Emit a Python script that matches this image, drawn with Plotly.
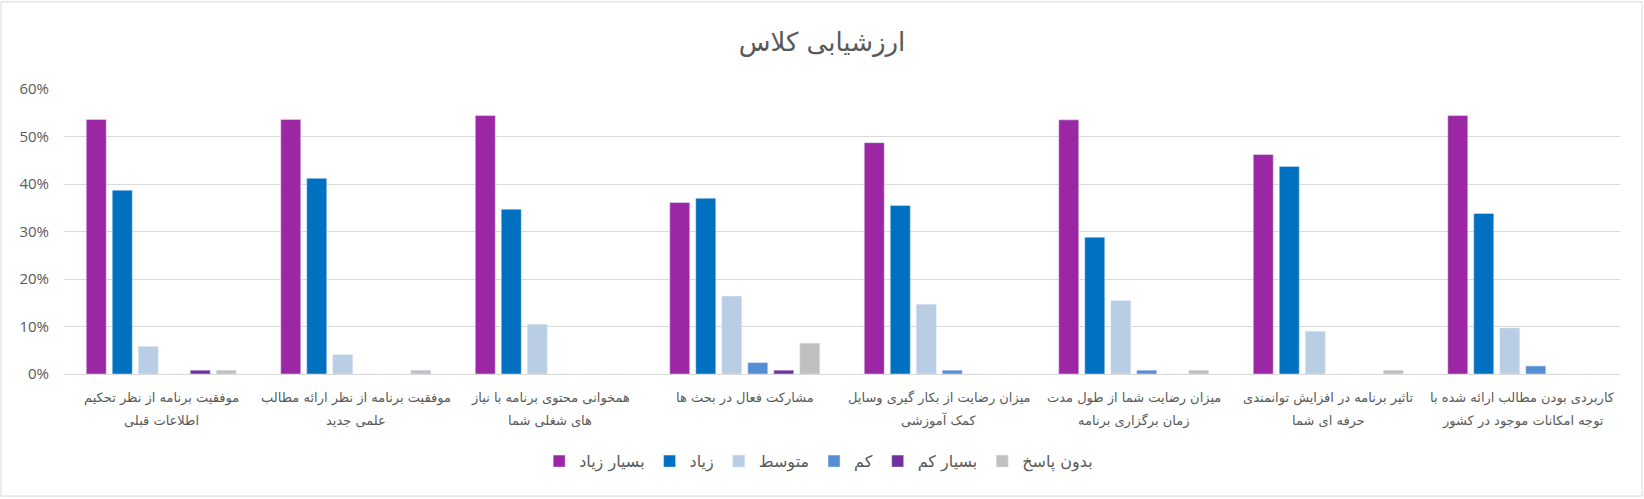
import plotly.graph_objects as go

#%% Data
label_line1 = [
    "موفقیت برنامه از نظر تحکیم",
    "موفقیت برنامه از نظر ارائه مطالب",
    "همخوانی محتوی برنامه با نیاز",
    "مشارکت فعال در بحث ها",
    "میزان رضایت از بکار گیری وسایل",
    "میزان رضایت شما از طول مدت",
    "تاثیر برنامه در افزایش توانمندی",
    "کاربردی بودن مطالب ارائه شده با",
]
label_line2 = [
    "اطلاعات قبلی",
    "علمی جدید",
    "های شغلی شما",
    "",
    "کمک آموزشی",
    "زمان برگزاری برنامه",
    "حرفه ای شما",
    "توجه امکانات موجود در کشور",
]
categories = [(a + " " + b).strip() for a, b in zip(label_line1, label_line2)]

very_high = [0.536, 0.536, 0.544, 0.361, 0.487, 0.535, 0.462, 0.544]
high = [0.387, 0.412, 0.347, 0.370, 0.355, 0.288, 0.437, 0.338]
medium = [0.058, 0.041, 0.105, 0.164, 0.147, 0.155, 0.090, 0.097]
low = [0.0, 0.0, 0.0, 0.024, 0.008, 0.008, 0.0, 0.017]
very_low = [0.008, 0.0, 0.0, 0.008, 0.0, 0.0, 0.0, 0.0]
no_answer = [0.008, 0.008, 0.0, 0.065, 0.0, 0.008, 0.008, 0.0]

series = [
    ("بسیار زیاد", very_high, "#9B27A4"),
    ("زیاد", high, "#0070C0"),
    ("متوسط", medium, "#B9CDE5"),
    ("کم", low, "#558ED5"),
    ("بسیار کم", very_low, "#7030A0"),
    ("بدون پاسخ", no_answer, "#BFBFBF"),
]

#%% Figure
text_font = "DejaVu Sans"
gray = "#595959"

fig = go.Figure()
for name, values, color in series:
    marker = dict(color=color)
    if name == "بدون پاسخ":
        marker["pattern"] = dict(shape="x", fgcolor="#D0D0D0", size=4, solidity=0.2)
    fig.add_trace(go.Bar(x=categories, y=values, name=name, marker=marker))

# plot area in pixels: x 64..1620, y 88.5..374.5
pw, ph = 1556.0, 286.0

# two-line category labels under the axis
for cat, l1, l2 in zip(categories, label_line1, label_line2):
    for txt, ypix in ((l1, 398.5), (l2, 421.5)):
        if txt:
            fig.add_annotation(x=cat, xref="x", y=(374.5 - ypix) / ph, yref="paper",
                               text=txt, showarrow=False, xanchor="center", yanchor="middle",
                               font=dict(family=text_font, size=13, color=gray))

# chart area border
fig.add_shape(type="rect", xref="paper", yref="paper",
              x0=(1 - 64) / pw, x1=(1642 - 64) / pw,
              y0=(374.5 - 497) / ph, y1=(374.5 - 1) / ph,
              line=dict(color="#D9D9D9", width=1), layer="below")

fig.update_layout(
    width=1644, height=499,
    margin=dict(l=64, r=24, t=88.5, b=124.5, autoexpand=False),
    paper_bgcolor="white", plot_bgcolor="white",
    barmode="group", bargap=0.198, bargroupgap=0.23,
    title=dict(text="ارزشیابی کلاس", x=0.5, xanchor="center", y=1 - 42 / 499,
               yanchor="middle", font=dict(family=text_font, size=26, color=gray)),
    font=dict(family=text_font, size=14, color=gray),
    legend=dict(orientation="h", x=0.485, xanchor="center",
                y=(374.5 - 462) / ph, yanchor="middle",
                font=dict(family=text_font, size=16, color=gray),
                itemwidth=30, traceorder="normal"),
    showlegend=True,
)

fig.update_xaxes(showline=True, linecolor="#D9D9D9", linewidth=1,
                 showticklabels=False, ticks="", showgrid=False)
fig.update_yaxes(range=[0, 0.6], dtick=0.1, tickformat=".0%",
                 showgrid=True, gridcolor="#D9D9D9", gridwidth=1,
                 zeroline=False, showline=False, ticklabelstandoff=14,
                 tickfont=dict(family="Open Sans", size=15, color=gray))

# drop the default page margin so the chart sits at the window's top-left corner
fig.write_html("out.html", config={"displayModeBar": False},
               post_script="document.body.style.margin='0';")
